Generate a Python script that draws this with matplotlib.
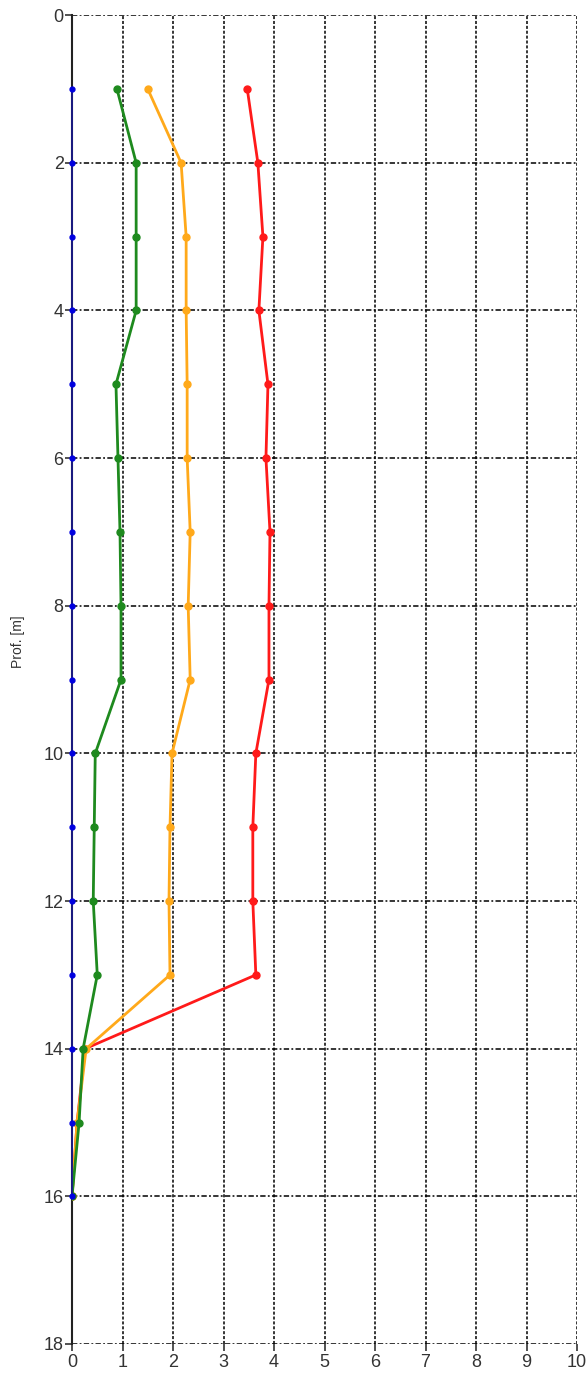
import matplotlib
matplotlib.use("Agg")
import matplotlib.pyplot as plt

depth = [1, 2, 3, 4, 5, 6, 7, 8, 9, 10, 11, 12, 13, 14, 15, 16]
blue = [0, 0, 0, 0, 0, 0, 0, 0, 0, 0, 0, 0, 0, 0, 0, 0]
green = [0.89, 1.27, 1.27, 1.27, 0.87, 0.91, 0.95, 0.97, 0.97, 0.46, 0.44, 0.42, 0.50, 0.22, 0.14, 0.0]
orange = [1.50, 2.16, 2.26, 2.26, 2.28, 2.28, 2.34, 2.30, 2.34, 1.98, 1.94, 1.92, 1.94, 0.28, 0.10, 0.0]
red = [3.47, 3.68, 3.78, 3.70, 3.88, 3.84, 3.92, 3.90, 3.90, 3.64, 3.58, 3.58, 3.64, 0.26, 0.10, 0.0]

xticks = list(range(0, 11))
yticks = list(range(0, 19, 2))

plt.rcParams['font.family'] = ['Liberation Sans', 'DejaVu Sans']
fig = plt.figure(figsize=(5.87, 13.81), dpi=100)
ax = fig.add_axes([0.1227, 0.0268, 0.983 - 0.1227, 0.989 - 0.0268])

ax.plot(red, depth, color='#ff1a1a', lw=2.0, marker='o', ms=5, zorder=3)
ax.plot(orange, depth, color='#ffa91a', lw=2.0, marker='o', ms=5, zorder=4)
ax.plot(green, depth, color='#1e8a1e', lw=2.0, marker='o', ms=5, zorder=5)
ax.plot(blue, depth, color='#1a1a8a', lw=1.3, marker='o', ms=3.5, mfc='#0000e0', mec='#0000e0',
        zorder=6, clip_on=False)

ax.set_xlim(0, 10)
ax.set_ylim(18, 0)
ax.set_xticks(xticks)
ax.set_yticks(yticks)
ax.tick_params(axis='both', labelsize=13, length=5, width=1.2, direction='out', pad=1, colors='#333333')
ax.tick_params(axis='x', pad=2)

ax.xaxis.grid(True, color='black', linestyle=(0, (2, 1.2)), linewidth=1.1)
ax.yaxis.grid(True, color='black', linestyle=(0, (3.5, 1.5, 1.2, 1.5)), linewidth=1.1)
for s in ['top', 'right', 'bottom']:
    ax.spines[s].set_visible(False)
ax.spines['left'].set_color('#222222')
ax.spines['left'].set_linewidth(1.5)
ax.spines['left'].set_zorder(2)

fig.text(0.03, 0.535, 'Prof. [m]', rotation=90, ha='center', va='center', fontsize=10, color='#333333')

fig.savefig('out.png', dpi=100)
